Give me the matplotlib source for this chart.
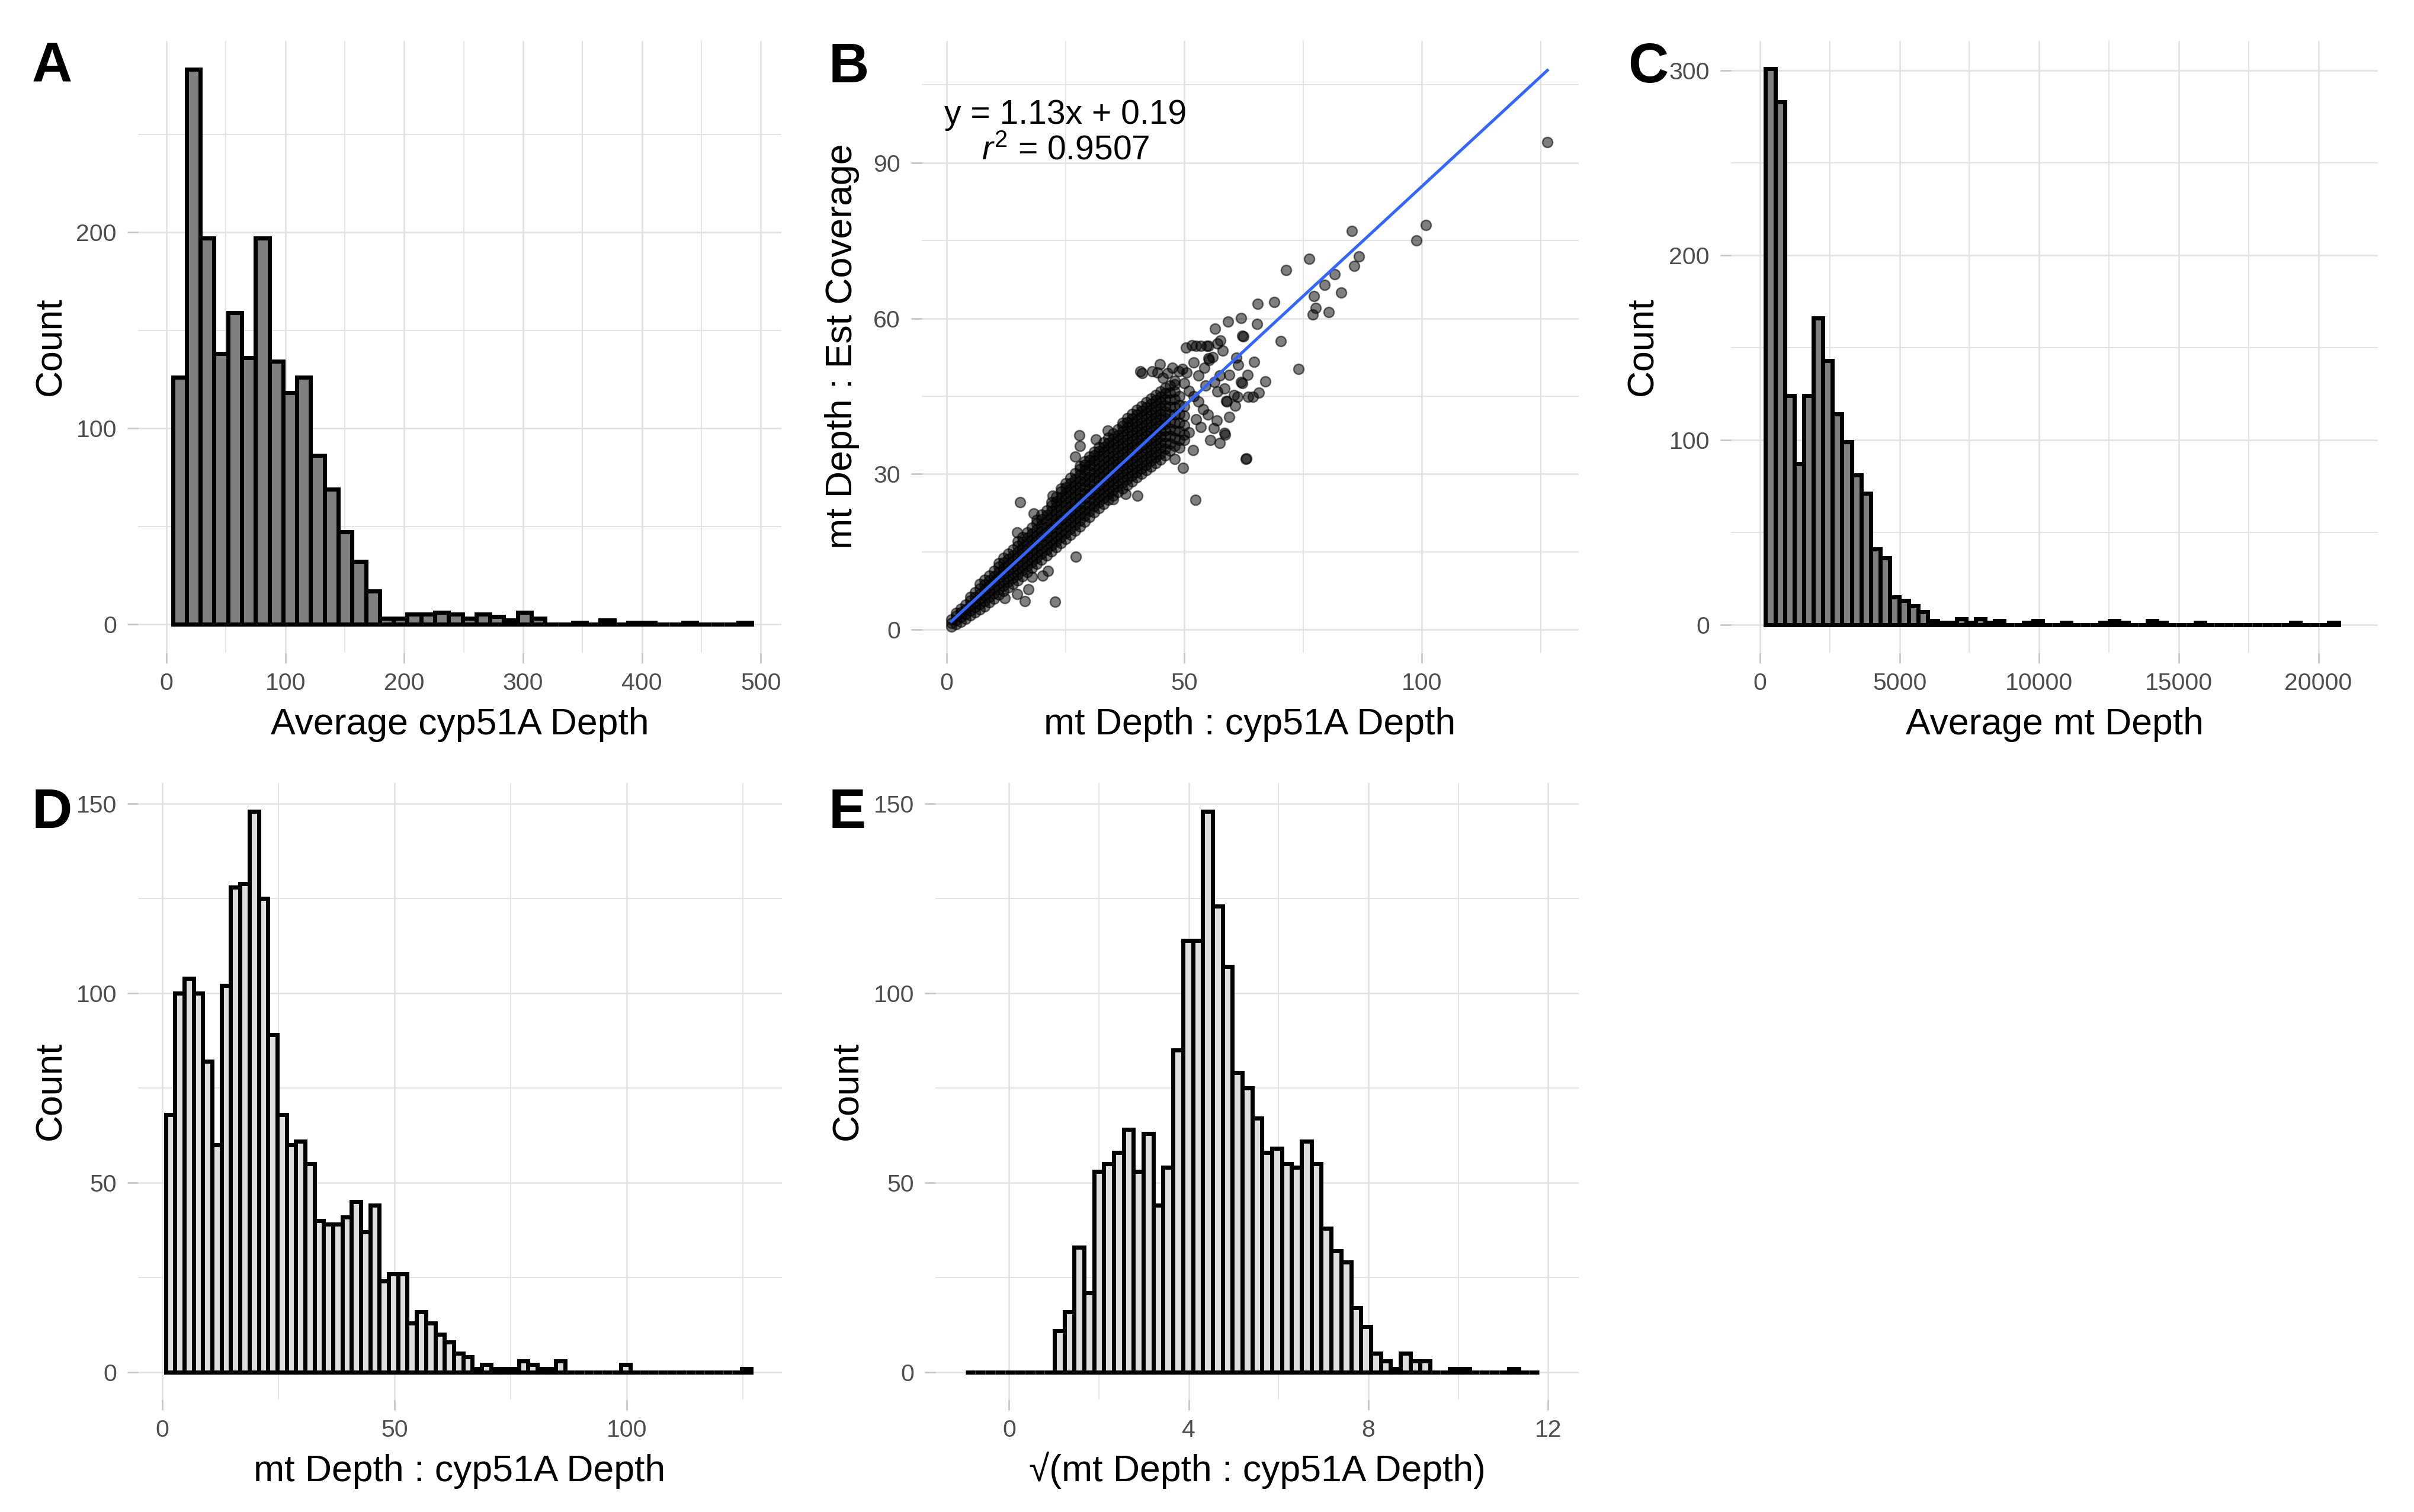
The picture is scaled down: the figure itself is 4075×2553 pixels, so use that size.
import matplotlib.pyplot as plt
import numpy as np

plt.rcParams['font.family'] = ['Liberation Sans', 'DejaVu Sans']
plt.rcParams['mathtext.fontset'] = 'custom'
plt.rcParams['mathtext.rm'] = 'Liberation Sans'
plt.rcParams['mathtext.it'] = 'Liberation Sans:italic'

W, H = 4075, 2553

# ---------------- data ----------------
# A: average cyp51A depth histogram
cyp_start, cyp_width = 5.3, 11.6
cyp_counts = [126, 283, 197, 138, 159, 136, 197, 134, 118, 126, 86, 69, 47, 32, 17,
              3, 3, 5, 5, 6, 5, 3, 5, 4, 2, 6, 3, 0, 0, 1, 0, 2, 0, 1, 1, 0, 0, 1,
              0, 0, 0, 1]

# C: average mt depth histogram
mt_start, mt_width = 200, 342
mt_counts = [301, 283, 124, 87, 124, 166, 143, 114, 99, 81,
             71, 41, 36, 15, 13, 10, 7, 2, 1, 1,
             3, 1, 3, 1, 2, 0, 0, 1, 2, 0,
             0, 1, 0, 0, 0, 1, 2, 1, 0, 0,
             2, 1, 0, 0, 0, 1, 0, 0, 0, 0,
             0, 0, 0, 0, 0, 1, 0, 0, 0, 1]

# D: mt depth : cyp51A depth histogram
ratio_start, ratio_width = 0.75, 2.0
ratio_counts = [68, 100, 104, 100, 82, 60, 102, 128, 129, 148,
                125, 89, 68, 60, 61, 55, 40, 39, 39, 41,
                45, 37, 44, 24, 26, 26, 13, 16, 13, 10,
                8, 5, 4, 1, 2, 1, 1, 1, 3, 2,
                1, 1, 3, 0, 0, 0, 0, 0, 0, 2,
                0, 0, 0, 0, 0, 0, 0, 0, 0, 0, 0, 0, 1]

# E: sqrt(ratio) histogram
sqrt_start, sqrt_width = -0.97, 0.22
sqrt_counts = [0, 0, 0, 0, 0, 0, 0, 0, 0,
               11, 16, 33, 21, 53, 55, 58, 64, 53, 63,
               44, 54, 85, 114, 114, 148, 123, 107, 79, 75,
               67, 58, 59, 55, 54, 61, 55, 38, 32, 29,
               17, 12, 5, 3, 1, 5, 3, 3, 0, 0,
               1, 1, 0, 0, 0, 0, 1, 0, 0]

# B: scatter, dense core given as columns (x, [y values])
cloud_cols = [
    (1, [0.6, 1.3, 2.0]),
    (2, [1.0, 1.8, 2.6, 3.2]),
    (3, [1.5, 2.4, 3.3, 4.0]),
    (4, [2.1, 3.0, 3.9, 4.8]),
    (5, [2.7, 3.7, 4.7, 5.6, 6.3]),
    (6, [3.3, 4.3, 5.3, 6.3, 7.2]),
    (7, [3.9, 4.9, 5.9, 6.9, 7.9, 8.8]),
    (8, [4.5, 5.5, 6.6, 7.7, 8.7, 9.6]),
    (9, [5.2, 6.3, 7.4, 8.5, 9.5, 10.4]),
    (10, [5.9, 7.0, 8.1, 9.2, 10.3, 11.3]),
    (11, [6.7, 7.8, 8.9, 10.0, 11.1, 12.1, 12.8]),
    (12, [7.4, 8.5, 9.6, 10.7, 11.8, 12.9, 13.8]),
    (13, [8.1, 9.2, 10.3, 11.4, 12.5, 13.6, 14.6]),
    (14, [8.8, 9.9, 11.0, 12.1, 13.2, 14.3, 15.4]),
    (15, [9.5, 10.6, 11.7, 12.8, 13.9, 15.0, 16.1, 17.0]),
    (16, [10.3, 11.4, 12.5, 13.6, 14.7, 15.8, 16.9, 17.8]),
    (17, [11.1, 12.2, 13.3, 14.4, 15.5, 16.6, 17.7, 18.7]),
    (18, [11.9, 13.0, 14.1, 15.2, 16.3, 17.4, 18.5, 19.6]),
    (19, [12.7, 13.8, 14.9, 16.0, 17.1, 18.2, 19.3, 20.4, 21.1]),
    (20, [13.5, 14.6, 15.7, 16.8, 17.9, 19.0, 20.1, 21.2, 22.1]),
    (21, [14.3, 15.4, 16.5, 17.6, 18.7, 19.8, 20.9, 22.0, 23.0]),
    (22, [15.1, 16.2, 17.3, 18.4, 19.5, 20.6, 21.7, 22.8, 23.9, 24.5]),
    (23, [15.9, 17.0, 18.1, 19.2, 20.3, 21.4, 22.5, 23.6, 24.7, 25.6]),
    (24, [16.7, 17.8, 18.9, 20.0, 21.1, 22.2, 23.3, 24.4, 25.5, 26.6, 27.2]),
    (25, [17.5, 18.6, 19.7, 20.8, 21.9, 23.0, 24.1, 25.2, 26.3, 27.4, 28.2]),
    (26, [18.3, 19.4, 20.5, 21.6, 22.7, 23.8, 24.9, 26.0, 27.1, 28.2, 29.2]),
    (27, [19.1, 20.2, 21.3, 22.4, 23.5, 24.6, 25.7, 26.8, 27.9, 29.0, 30.1]),
    (28, [19.9, 21.0, 22.1, 23.2, 24.3, 25.4, 26.5, 27.6, 28.7, 29.8, 30.9, 31.5]),
    (29, [20.8, 21.9, 23.0, 24.1, 25.2, 26.3, 27.4, 28.5, 29.6, 30.7, 31.8, 32.4]),
    (30, [21.7, 22.8, 23.9, 25.0, 26.1, 27.2, 28.3, 29.4, 30.5, 31.6, 32.7, 33.4]),
    (31, [22.6, 23.7, 24.8, 25.9, 27.0, 28.1, 29.2, 30.3, 31.4, 32.5, 33.6, 34.3]),
    (32, [23.4, 24.5, 25.6, 26.7, 27.8, 28.9, 30.0, 31.1, 32.2, 33.3, 34.4, 35.2]),
    (33, [24.2, 25.3, 26.4, 27.5, 28.6, 29.7, 30.8, 31.9, 33.0, 34.1, 35.2, 36.1]),
    (34, [25.0, 26.1, 27.2, 28.3, 29.4, 30.5, 31.6, 32.7, 33.8, 34.9, 36.0, 37.0]),
    (35, [25.8, 26.9, 28.0, 29.1, 30.2, 31.3, 32.4, 33.5, 34.6, 35.7, 36.8, 37.8]),
    (36, [26.5, 27.6, 28.7, 29.8, 30.9, 32.0, 33.1, 34.2, 35.3, 36.4, 37.5, 38.6]),
    (37, [27.2, 28.3, 29.4, 30.5, 31.6, 32.7, 33.8, 34.9, 36.0, 37.1, 38.2, 39.3, 39.9]),
    (38, [27.9, 29.0, 30.1, 31.2, 32.3, 33.4, 34.5, 35.6, 36.7, 37.8, 38.9, 40.0, 40.8]),
    (39, [28.6, 29.7, 30.8, 31.9, 33.0, 34.1, 35.2, 36.3, 37.4, 38.5, 39.6, 40.7, 41.6]),
    (40, [29.3, 30.4, 31.5, 32.6, 33.7, 34.8, 35.9, 37.0, 38.1, 39.2, 40.3, 41.4, 42.4]),
    (41, [30.0, 31.1, 32.2, 33.3, 34.4, 35.5, 36.6, 37.7, 38.8, 39.9, 41.0, 42.1, 43.1]),
    (42, [30.7, 31.8, 32.9, 34.0, 35.1, 36.2, 37.3, 38.4, 39.5, 40.6, 41.7, 42.8, 43.8]),
    (43, [31.4, 32.5, 33.6, 34.7, 35.8, 36.9, 38.0, 39.1, 40.2, 41.3, 42.4, 43.5, 44.5]),
    (44, [32.1, 33.2, 34.3, 35.4, 36.5, 37.6, 38.7, 39.8, 40.9, 42.0, 43.1, 44.2, 45.2]),
    (45, [32.8, 33.9, 35.0, 36.1, 37.2, 38.3, 39.4, 40.5, 41.6, 42.7, 43.8, 44.9, 45.9]),
    (46, [33.6, 34.8, 36.0, 37.2, 38.4, 39.6, 40.8, 42.0, 43.2, 44.4, 45.6, 46.6]),
    (47, [34.5, 35.9, 37.3, 38.7, 40.1, 41.5, 42.9, 44.3, 45.7, 47.0]),
    (48, [35.4, 36.9, 38.4, 39.9, 41.4, 42.9, 44.4, 45.9, 47.3]),
    (49, [36.5, 38.2, 39.9, 41.6, 43.3, 45.0]),
    (50, [37.6, 39.4, 41.2, 43.0]),
]

# B: scattered points outside the core
scatter_extra = [
    (15.4, 24.6), (27.2, 14.1), (22.8, 5.4), (16.5, 5.5), (14.8, 6.8), (17.2, 7.8),
    (12.2, 6.1), (17.9, 10.2), (20.2, 10.4), (21.3, 11.3), (14.8, 18.7), (18.3, 22.4),
    (22.3, 25.8), (27.9, 37.4), (28.0, 35.4), (27.1, 33.4), (31.4, 36.7), (33.9, 38.4),
    (40.1, 25.8), (37.7, 26.2), (35.0, 25.1), (52.3, 25.0), (49.7, 31.2), (48.0, 32.9),
    (58.6, 37.6), (63.0, 32.9), (41.1, 49.4), (43.3, 49.8), (44.9, 51.1), (51.6, 54.8),
    (53.5, 54.7), (55.1, 54.7), (57.6, 55.7), (48.9, 49.8), (49.6, 50.2), (50.5, 49.6),
    (55.1, 52.3), (56.0, 52.5), (62.2, 47.5), (60.5, 45.2), (58.8, 44.1), (60.7, 43.2),
    (56.8, 40.3), (56.2, 38.8), (51.8, 34.6), (63.4, 44.9), (61.3, 51.0), (62.4, 56.5),
    (45.5, 48.5), (46.5, 49.5), (47.5, 50.5), (48.0, 48.0), (50.0, 47.5), (51.0, 46.0),
    (52.0, 45.0), (53.0, 44.0), (54.0, 42.5), (52.5, 40.5), (53.5, 39.0), (55.0, 41.5),
    (51.0, 38.0), (50.0, 36.5), (49.0, 35.0), (54.5, 47.0), (53.0, 49.0), (52.0, 51.5),
    (57.5, 49.0), (58.5, 46.5), (59.5, 41.0), (57.5, 36.0), (55.5, 36.5),
    (126.4, 94.0), (100.8, 78.0), (98.9, 75.0), (85.2, 76.8), (86.7, 71.9), (85.8, 70.1),
    (71.4, 69.3), (76.3, 71.5), (79.5, 66.4), (81.7, 68.5), (77.3, 64.3), (83.0, 65.0),
    (77.7, 62.0), (77.0, 60.8), (80.4, 61.2), (65.5, 62.8), (68.9, 63.1), (61.9, 60.1),
    (59.2, 59.4), (65.3, 58.9), (62.2, 56.6), (70.3, 55.6), (56.5, 58.0), (74.1, 50.3),
    (63.3, 49.1), (67.1, 47.9), (65.7, 45.7), (64.4, 44.9), (62.0, 47.7), (61.2, 44.9),
    (59.0, 44.0), (58.5, 37.9), (63.1, 33.0), (40.7, 49.8), (44.4, 49.6), (52.5, 54.7),
    (50.4, 54.4), (54.7, 54.7), (56.9, 55.2), (58.1, 53.8), (55.2, 51.9), (54.2, 50.5),
    (56.3, 47.7), (56.9, 45.9), (59.5, 49.1), (60.9, 52.4), (64.7, 51.6),
]

# fitted line as drawn, and the printed equation
fit_slope, fit_intercept = 0.847, 0.75
eq_label = 'y = 1.13x + 0.19'
r2_label = r'$r^2$ = 0.9507'

# ---------------- helpers ----------------
GRID = '#E2E2E2'


def px_axes(fig, l, t, r, b):
    return fig.add_axes([l / W, 1 - b / H, (r - l) / W, (b - t) / H])


def style(ax, xlim, ylim, xmaj, xmin, ymaj, ymin):
    ax.set_xlim(xlim)
    ax.set_ylim(ylim)
    ax.set_xticks(xmaj)
    ax.set_xticklabels(['%g' % v for v in xmaj])
    ax.set_xticks(xmin, minor=True)
    ax.set_yticks(ymaj)
    ax.set_yticklabels(['%g' % v for v in ymaj])
    ax.set_yticks(ymin, minor=True)
    for s in ax.spines.values():
        s.set_visible(False)
    ax.set_axisbelow(True)
    ax.grid(which='major', color=GRID, lw=1.9)
    ax.grid(which='minor', color=GRID, lw=1.3)
    ax.tick_params(which='major', length=13, width=1.9, color='#C4C4C4',
                   labelsize=29.5, labelcolor='#4D4D4D')
    ax.tick_params(axis='x', which='major', pad=10.5)
    ax.tick_params(axis='y', which='major', pad=13)
    ax.tick_params(which='minor', length=0)


def hist(ax, start, width, counts, fill):
    edges = start + width * np.arange(len(counts))
    ax.bar(edges, counts, width=width, align='edge', color=fill,
           edgecolor='black', linewidth=5.0, zorder=2)


def fig_text(x, y, s, **kw):
    fig.text(x / W, 1 - y / H, s, **kw)


fig = plt.figure(figsize=(W / 100, H / 100), dpi=100)

# ---------------- A ----------------
axA = px_axes(fig, 233, 69, 1319, 1102)
hist(axA, cyp_start, cyp_width, cyp_counts, '#7F7F7F')
style(axA, (-23.9, 517.2), (-14.5, 297.6),
      [0, 100, 200, 300, 400, 500], [50, 150, 250, 350, 450],
      [0, 100, 200], [50, 150, 250])

# ---------------- B ----------------
axB = px_axes(fig, 1556, 69, 2665, 1102)
bx = [x for x, ys in cloud_cols for _ in ys] + [p[0] for p in scatter_extra]
by = [y for _, ys in cloud_cols for y in ys] + [p[1] for p in scatter_extra]
axB.scatter(bx, by, s=150, facecolor=(0, 0, 0, 0.5), edgecolor=(0, 0, 0, 0.55),
            linewidth=1.8, zorder=3)
lx = np.array([min(bx), max(bx)])
axB.plot(lx, fit_slope * lx + fit_intercept, color='#3366FF', lw=3.6, zorder=4)
axB.text(25, 97.5, eq_label, ha='center', va='baseline', fontsize=41, zorder=5)
axB.text(25, 90.6, r2_label, ha='center', va='baseline', fontsize=41, zorder=5)
style(axB, (-5.24, 133.0), (-4.45, 113.5),
      [0, 50, 100], [25, 75, 125], [0, 30, 60, 90], [15, 45, 75, 105])

# ---------------- C ----------------
axC = px_axes(fig, 2922, 69, 4014, 1102)
hist(axC, mt_start, mt_width, mt_counts, '#7F7F7F')
style(axC, (-1040, 22130), (-15.2, 316),
      [0, 5000, 10000, 15000, 20000], [2500, 7500, 12500, 17500],
      [0, 100, 200, 300], [50, 150, 250])

# ---------------- D ----------------
axD = px_axes(fig, 233, 1322, 1320, 2363)
hist(axD, ratio_start, ratio_width, ratio_counts, '#DEDEDE')
style(axD, (-5.2, 133.4), (-7.2, 155.5),
      [0, 50, 100], [25, 75, 125], [0, 50, 100, 150], [25, 75, 125])

# ---------------- E ----------------
axE = px_axes(fig, 1579, 1322, 2665, 2363)
hist(axE, sqrt_start, sqrt_width, sqrt_counts, '#DEDEDE')
style(axE, (-1.64, 12.68), (-7.2, 155.5),
      [0, 4, 8, 12], [2, 6, 10], [0, 50, 100, 150], [25, 75, 125])

# ---------------- titles and panel letters ----------------
TS = 45
fig_text(776, 1240, 'Average cyp51A Depth', ha='center', va='baseline', fontsize=TS)
fig_text(2110, 1240, 'mt Depth : cyp51A Depth', ha='center', va='baseline', fontsize=TS)
fig_text(3468, 1240, 'Average mt Depth', ha='center', va='baseline', fontsize=TS)
fig_text(776, 2501, 'mt Depth : cyp51A Depth', ha='center', va='baseline', fontsize=TS)
fig_text(2122, 2501, '√(mt Depth : cyp51A Depth)', ha='center', va='baseline', fontsize=TS)

for x, y, s in [(102, 585, 'Count'), (1438, 585, 'mt Depth : Est Coverage'),
                (2789, 585, 'Count'), (102, 1842, 'Count'), (1447, 1842, 'Count')]:
    fig_text(x, y, s, rotation=90, rotation_mode='anchor', ha='center',
             va='baseline', fontsize=TS)

for x, y, s in [(54, 139, 'A'), (1399, 139, 'B'), (2748, 139, 'C'),
                (54, 1398, 'D'), (1399, 1398, 'E')]:
    fig_text(x, y, s, ha='left', va='baseline', fontsize=68, fontweight='bold')

fig.savefig('out.png', dpi=100, facecolor='white')
